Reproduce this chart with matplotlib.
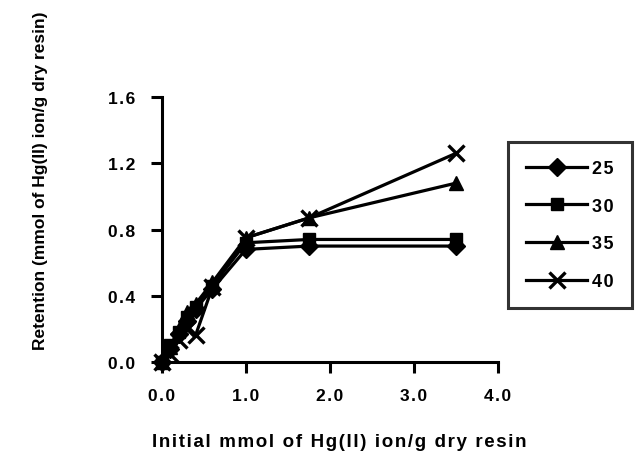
import matplotlib
matplotlib.use("Agg")
import matplotlib.pyplot as plt

plt.rcParams['font.family'] = ['Liberation Sans', 'DejaVu Sans']
plt.rcParams['font.weight'] = 'bold'

# Initial mmol of Hg(II) per g dry resin
x_vals = [0.0, 0.1, 0.2, 0.3, 0.4, 0.6, 1.0, 1.75, 3.5]

# Retention at each temperature
ret_25 = [0.0, 0.08, 0.17, 0.25, 0.32, 0.44, 0.68, 0.70, 0.70]
ret_30 = [0.0, 0.10, 0.18, 0.27, 0.33, 0.46, 0.72, 0.74, 0.74]
ret_35 = [0.0, 0.09, 0.20, 0.30, 0.35, 0.48, 0.75, 0.87, 1.08]
ret_40 = [0.0, 0.05, 0.13, 0.20, 0.16, 0.45, 0.75, 0.87, 1.26]

labels = ['25', '30', '35', '40']
markers = ['D', 's', '^', 'x']
sizes = [9, 9, 10, 11]

x_ticks = [0.0, 1.0, 2.0, 3.0, 4.0]
y_ticks = [0.0, 0.4, 0.8, 1.2, 1.6]


def spaced(s):
    # the original uses wide letter spacing
    return '\u200a'.join(s)


fig = plt.figure(figsize=(6.35, 4.52), dpi=100)
ax = fig.add_axes([0.255, 0.197, 0.529, 0.586])

for y, lab, m, s in zip([ret_25, ret_30, ret_35, ret_40], labels, markers, sizes):
    ax.plot(x_vals, y, color='black', linewidth=2.3, marker=m, markersize=s,
            markeredgewidth=2.4 if m == 'x' else 1, label=spaced(lab),
            clip_on=False)

ax.set_xlim(0, 4.0)
ax.set_ylim(0, 1.6)
ax.set_xticks(x_ticks)
ax.set_yticks(y_ticks)
ax.set_xticklabels([spaced(f"{v:.1f}") for v in x_ticks])
ax.set_yticklabels([spaced(f"{v:.1f}") for v in y_ticks])
ax.tick_params(direction='out', length=8, width=2.2, labelsize=12.5)
ax.tick_params(axis='y', pad=11)
ax.tick_params(axis='x', pad=11)

for side in ['top', 'right']:
    ax.spines[side].set_visible(False)
for side in ['left', 'bottom']:
    ax.spines[side].set_linewidth(2.2)

fig.text(0.063, 0.60, 'Retention (mmol of Hg(II) ion/g dry resin)', rotation=90,
         ha='center', va='center', fontsize=12.5, fontweight='bold')
fig.text(0.535, 0.022, spaced('Initial mmol of Hg(II) ion/g dry resin'),
         ha='center', va='center', fontsize=13.5, fontweight='bold')

leg = fig.legend(loc='upper left', bbox_to_anchor=(0.8, 0.684), borderaxespad=0,
                 frameon=True, fancybox=False, edgecolor='black', fontsize=13,
                 handlelength=3.4, labelspacing=1.15, borderpad=1.0,
                 handletextpad=0.25)
leg.get_frame().set_linewidth(2.2)

fig.savefig('out.png', dpi=100)
